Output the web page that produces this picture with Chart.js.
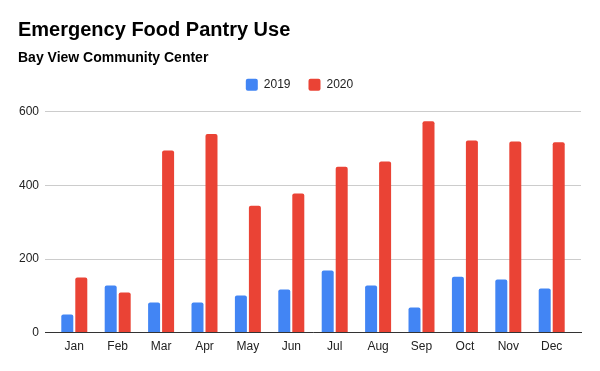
<!DOCTYPE html>
<html>
<head>
<meta charset="utf-8">
<title>Emergency Food Pantry Use</title>
<script src="https://cdn.jsdelivr.net/npm/chart.js"></script>
<style>
  body { margin: 0; background: #fff; }
</style>
</head>
<body>
<canvas id="pantryChart" width="600" height="371"></canvas>
<script>
    // values
    const months = ['Jan','Feb','Mar','Apr','May','Jun','Jul','Aug','Sep','Oct','Nov','Dec'];
    const use2019 = [49, 128, 82, 82, 101, 117, 169, 128, 68, 152, 144, 120];
    const use2020 = [150, 109, 495, 540, 345, 378, 451, 465, 574, 522, 519, 517];
    const yTicks = [0, 200, 400, 600];

    const fontFamily = '"Liberation Sans", Arial, sans-serif';
    Chart.defaults.font.family = fontFamily;
    Chart.defaults.color = '#222';

    // a bit more room under the legend, like the sheets chart
    const legendGap = {
        id: 'legendGap',
        afterInit: function(chart) {
            var fit = chart.legend.fit;
            chart.legend.fit = function() { fit.call(this); this.height += 11; };
        }
    };

    // extra margin left and right of the first/last month (fraction of a category)
    const xMargin = 0.175;

    var ctx = document.getElementById('pantryChart').getContext('2d');
    var pantryChart = new Chart(ctx, {
        type: 'bar',
        data: {
            labels: months,
            datasets: [
                { label: '2019', data: use2019, backgroundColor: '#4285F4',
                  borderRadius: {topLeft: 2, topRight: 2}, borderSkipped: 'bottom' },
                { label: '2020', data: use2020, backgroundColor: '#EA4335',
                  borderRadius: {topLeft: 2, topRight: 2}, borderSkipped: 'bottom' }
            ]
        },
        plugins: [legendGap],
        options: {
            responsive: false,
            animation: false,
            categoryPercentage: 0.645,
            barPercentage: 0.857,
            layout: { padding: { left: 18, right: 19, top: 12, bottom: 10 } },
            plugins: {
                title: {
                    display: true, text: 'Emergency Food Pantry Use', align: 'start',
                    color: '#000', font: { size: 20, weight: 'bold' },
                    padding: { top: 6, bottom: 8 }
                },
                subtitle: {
                    display: true, text: 'Bay View Community Center', align: 'start',
                    color: '#000', font: { size: 14, weight: 'bold' },
                    padding: { top: 0, bottom: -6 }
                },
                legend: {
                    position: 'top',
                    labels: { boxWidth: 12, boxHeight: 12, padding: 18, color: '#222',
                              useBorderRadius: true, borderRadius: 2,
                              font: { size: 12 } }
                },
                tooltip: { enabled: false }
            },
            scales: {
                x: {
                    afterBuildTicks: function(axis) {
                        axis._startValue -= xMargin;
                        axis._valueRange += 2 * xMargin;
                    },
                    grid: { display: false, drawTicks: false },
                    border: { display: true, color: '#333', width: 1 },
                    ticks: { font: { size: 12 }, color: '#222', padding: 7 }
                },
                y: {
                    min: 0, max: 600,
                    afterBuildTicks: function(axis) { axis.ticks = yTicks.map(v => ({ value: v })); },
                    afterFit: function(axis) { axis.width = 27; },
                    grid: { color: '#ccc', drawTicks: false },
                    border: { display: false },
                    ticks: { font: { size: 12 }, color: '#222', padding: 6 }
                }
            }
        }
    });
</script>
</body>
</html>
